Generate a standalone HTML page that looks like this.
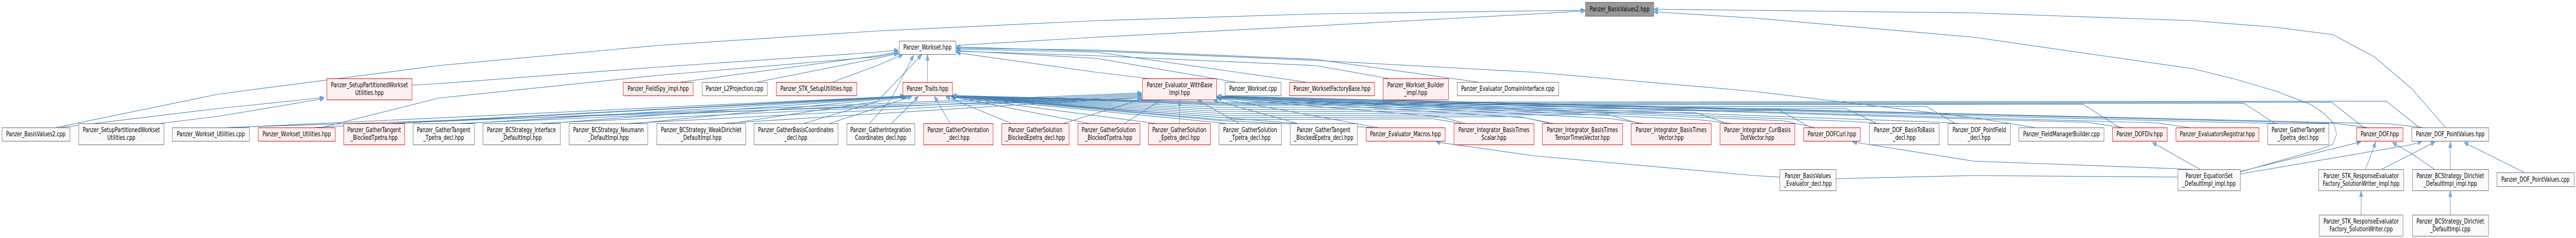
<!DOCTYPE html>
<html><head><meta charset="utf-8">
<style>
html,body{margin:0;padding:0;background:#fff;width:100%;height:100%;overflow:hidden}
svg{display:block;width:100vw;height:100vh;overflow:hidden}
text{font-family:"DejaVu Sans","Liberation Sans",sans-serif;font-size:13px;fill:#000;text-anchor:middle}
.e{fill:none;stroke:#4682b4;stroke-width:1.1;stroke-linejoin:round;marker-end:url(#a)}
.n{fill:none;stroke:#4682b4;stroke-width:1.1}
.g{fill:#f9faf9;stroke:#666;stroke-width:1}
.r{fill:#fff0f0;stroke:#c00;stroke-width:1}
.k{fill:#999;stroke:#666;stroke-width:1}
</style></head><body>
<svg viewBox="0 0 7049 461" preserveAspectRatio="none" xmlns="http://www.w3.org/2000/svg">
<defs>
<marker id="a" viewBox="0 0 12 10" refX="11" refY="5" markerWidth="12" markerHeight="10" orient="auto" markerUnits="userSpaceOnUse">
<path d="M0.5,0.8 L11,5 L0.5,9.2 z" fill="#63b8ff" stroke="#4682b4" stroke-width="0.8"/>
</marker>
</defs>

<!-- edges to root -->
<path class="e" d="M153,247 L600,182 L1200,127 L1800,88 L2400,60 L3000,40 L3600,27 L4200,21 L4337,20"/>
<path class="e" d="M2615,88 L3000,72 L3600,50 L4200,27 L4337,21"/>
<path class="e" d="M6692,247 L6600,172 L6497,110 L6383,67 L6230,53 L6000,40 L5400,25 L4800,20 L4526,18"/>
<path class="e" d="M6130,333 L6344,290 L6383,280 L6394,260 L6387,240 L6360,220 L6325,203 L6230,177 L6115,153 L6000,133 L5400,72 L4800,35 L4526,23"/>

<!-- edges to Workset.hpp -->
<path class="e" d="M2538,159 L2538,106"/>
<path class="e" d="M1127,165 L1200,162 L1800,130 L2400,101 L2458,97"/>
<path class="e" d="M1862,159 L2400,108 L2458,100"/>
<path class="e" d="M2072,159 L2400,113 L2459,103"/>
<path class="e" d="M2278,159 L2400,127 L2470,106"/>
<path class="e" d="M880,247 L1200,190 L1800,146 L2400,110 L2458,102"/>
<path class="e" d="M2200,239 L2400,197 L2522,106"/>
<path class="e" d="M2380,239 L2440,190 L2500,107"/>
<path class="e" d="M3380,159 L3000,113 L2617,98"/>
<path class="e" d="M3574,159 L3000,101 L2617,95"/>
<path class="e" d="M3140,152 L3000,140 L2617,102"/>
<path class="e" d="M3800,152 L3600,127 L3000,108 L2617,99"/>
<path class="e" d="M4044,159 L3600,115 L3000,97 L2617,93"/>
<path class="e" d="M5568,247 L5400,228 L4800,177 L4200,140 L3600,117 L3000,99 L2617,91"/>

<!-- edges to SetupPartitionedWorksetUtilities.hpp -->
<path class="e" d="M165,247 L600,210 L886,189"/>
<path class="e" d="M440,239 L600,225 L886,191"/>

<!-- edges to Traits.hpp from left -->
<path class="e" d="M640,247 L2474,186"/>
<path class="e" d="M860,247 L2476,186"/>
<path class="e" d="M1090,239 L2478,187"/>
<path class="e" d="M1280,239 L2480,187"/>
<path class="e" d="M1500,239 L2482,187"/>
<path class="e" d="M1740,239 L2485,187"/>
<path class="e" d="M2000,239 L2488,187"/>
<path class="e" d="M2270,239 L2495,187"/>
<path class="e" d="M2440,239 L2513,187"/>
<path class="e" d="M2600,239 L2557,187"/>
<path class="e" d="M2767,239 L2588,187"/>
<path class="e" d="M2980,239 L2602,187"/>
<path class="e" d="M3160,239 L2603,187"/>
<path class="e" d="M3355,239 L2604,187"/>
<path class="e" d="M3548,239 L2605,187"/>
<!-- edges to Traits.hpp from right -->
<path class="e" d="M3760,247 L3345,234 L2606,186"/>
<path class="e" d="M4000,239 L3920,230 L3345,232 L2606,185"/>
<path class="e" d="M4240,239 L4160,226 L3345,228 L2606,185"/>
<path class="e" d="M4485,239 L4400,222 L3345,224 L2606,185"/>
<path class="e" d="M4725,239 L4640,218 L3345,220 L2606,185"/>
<path class="e" d="M4955,247 L4870,214 L3345,216 L2606,185"/>
<path class="e" d="M5135,239 L5050,210 L3345,212 L2606,185"/>
<path class="e" d="M5350,239 L5270,206 L3345,208 L2606,185"/>
<path class="e" d="M5800,247 L5700,202 L3345,204 L2606,185"/>
<path class="e" d="M6225,239 L6140,200 L3345,202 L2606,185"/>
<path class="e" d="M6468,247 L6380,198 L3345,200 L2606,185"/>
<path class="e" d="M6620,247 L6530,196 L3345,198 L2606,185"/>

<!-- edges to Evaluator_WithBaseImpl.hpp -->
<path class="e" d="M620,247 L3124,190"/>
<path class="e" d="M1070,239 L3124,180"/>
<path class="e" d="M1260,239 L3124,182"/>
<path class="e" d="M1480,239 L3124,184"/>
<path class="e" d="M1720,239 L3124,186"/>
<path class="e" d="M1980,239 L3124,188"/>
<path class="e" d="M2910,239 L3126,192"/>
<path class="e" d="M3077,239 L3176,194"/>
<path class="e" d="M3228,239 L3228,194"/>
<path class="e" d="M3390,239 L3277,194"/>
<path class="e" d="M3550,239 L3321,194"/>
<path class="e" d="M3770,247 L3331,190"/>
<path class="e" d="M4010,239 L3940,226 L3331,190"/>
<path class="e" d="M4250,239 L4170,228 L3331,189"/>
<path class="e" d="M4495,239 L4410,230 L3331,189"/>
<path class="e" d="M4735,239 L4650,232 L3331,188"/>
<path class="e" d="M4965,247 L4880,234 L3331,188"/>
<path class="e" d="M5145,239 L5060,235 L3331,188"/>
<path class="e" d="M5360,239 L5280,236 L3331,187"/>
<path class="e" d="M5810,247 L5710,237 L3331,187"/>
<path class="e" d="M5990,247 L5900,238 L3331,187"/>
<path class="e" d="M6235,239 L6150,238 L3331,186"/>
<path class="e" d="M6478,247 L6390,239 L3331,186"/>
<path class="e" d="M6630,247 L6540,240 L3331,186"/>

<!-- lower edges -->
<path class="e" d="M4870,343 L4800,340 L4200,302 L3930,275"/>
<path class="n" d="M5959,343 L5400,340 L5024,346"/>
<path class="e" d="M6000,328 L5400,312 L5070,275"/>
<path class="e" d="M6020,328 L5890,276"/>
<path class="e" d="M6130,332 L6460,275"/>
<path class="e" d="M6130,337 L6600,280 L6627,274"/>
<path class="e" d="M6473,328 L6501,275"/>
<path class="e" d="M6517,328 L6600,298 L6663,275"/>
<path class="e" d="M6662,328 L6600,298 L6547,276"/>
<path class="e" d="M6705,328 L6705,275"/>
<path class="e" d="M6907,334 L6743,276"/>
<path class="e" d="M6461,416 L6461,370"/>
<path class="e" d="M6705,416 L6705,370"/>

<!-- nodes -->
<rect class="k" x="4338.5" y="4.5" width="187" height="27"/><text x="4432" y="22">Panzer_BasisValues2.hpp</text>
<rect class="g" x="2460.5" y="79.5" width="155" height="26"/><text x="2538" y="96">Panzer_Workset.hpp</text>

<rect class="r" x="894.5" y="152.5" width="233" height="41"/><text x="1011" y="169">Panzer_SetupPartitionedWorkset</text><text x="1011" y="184">Utilities.hpp</text>
<rect class="r" x="1705.5" y="159.5" width="191" height="26"/><text x="1801" y="176">Panzer_FieldSpy_impl.hpp</text>
<rect class="g" x="1921.5" y="159.5" width="178" height="26"/><text x="2010" y="176">Panzer_L2Projection.cpp</text>
<rect class="r" x="2124.5" y="159.5" width="220" height="26"/><text x="2234" y="176">Panzer_STK_SetupUtilities.hpp</text>
<rect class="r" x="2470.5" y="159.5" width="136" height="26"/><text x="2538" y="176">Panzer_Traits.hpp</text>
<rect class="r" x="3126.5" y="152.5" width="203" height="41"/><text x="3228" y="169">Panzer_Evaluator_WithBase</text><text x="3228" y="184">Impl.hpp</text>
<rect class="g" x="3352.5" y="159.5" width="153" height="26"/><text x="3429" y="176">Panzer_Workset.cpp</text>
<rect class="r" x="3528.5" y="159.5" width="233" height="26"/><text x="3645" y="176">Panzer_WorksetFactoryBase.hpp</text>
<rect class="r" x="3784.5" y="152.5" width="179" height="41"/><text x="3874" y="169">Panzer_Workset_Builder</text><text x="3874" y="184">_impl.hpp</text>
<rect class="g" x="3987.5" y="159.5" width="278" height="26"/><text x="4126" y="176">Panzer_Evaluator_DomainInterface.cpp</text>

<rect class="g" x="5.5" y="247.5" width="186" height="26"/><text x="98" y="264">Panzer_BasisValues2.cpp</text>
<rect class="g" x="215.5" y="239.5" width="233" height="41"/><text x="332" y="256">Panzer_SetupPartitionedWorkset</text><text x="332" y="271">Utilities.cpp</text>
<rect class="g" x="471.5" y="247.5" width="211" height="26"/><text x="577" y="264">Panzer_Workset_Utilities.cpp</text>
<rect class="r" x="706.5" y="247.5" width="211" height="26"/><text x="812" y="264">Panzer_Workset_Utilities.hpp</text>
<rect class="r" x="940.5" y="239.5" width="167" height="41"/><text x="1024" y="256">Panzer_GatherTangent</text><text x="1024" y="271">_BlockedTpetra.hpp</text>
<rect class="g" x="1130.5" y="239.5" width="168" height="41"/><text x="1214" y="256">Panzer_GatherTangent</text><text x="1214" y="271">_Tpetra_decl.hpp</text>
<rect class="g" x="1321.5" y="239.5" width="212" height="41"/><text x="1427" y="256">Panzer_BCStrategy_Interface</text><text x="1427" y="271">_DefaultImpl.hpp</text>
<rect class="g" x="1557.5" y="239.5" width="215" height="41"/><text x="1665" y="256">Panzer_BCStrategy_Neumann</text><text x="1665" y="271">_DefaultImpl.hpp</text>
<rect class="g" x="1797.5" y="239.5" width="243" height="41"/><text x="1919" y="256">Panzer_BCStrategy_WeakDirichlet</text><text x="1919" y="271">_DefaultImpl.hpp</text>
<rect class="g" x="2063.5" y="239.5" width="230" height="41"/><text x="2178" y="256">Panzer_GatherBasisCoordinates</text><text x="2178" y="271">_decl.hpp</text>
<rect class="g" x="2317.5" y="239.5" width="186" height="41"/><text x="2410" y="256">Panzer_GatherIntegration</text><text x="2410" y="271">Coordinates_decl.hpp</text>
<rect class="r" x="2527.5" y="239.5" width="190" height="41"/><text x="2622" y="256">Panzer_GatherOrientation</text><text x="2622" y="271">_decl.hpp</text>
<rect class="r" x="2741.5" y="239.5" width="184" height="41"/><text x="2833" y="256">Panzer_GatherSolution</text><text x="2833" y="271">_BlockedEpetra_decl.hpp</text>
<rect class="r" x="2949.5" y="239.5" width="170" height="41"/><text x="3034" y="256">Panzer_GatherSolution</text><text x="3034" y="271">_BlockedTpetra.hpp</text>
<rect class="r" x="3142.5" y="239.5" width="170" height="41"/><text x="3227" y="256">Panzer_GatherSolution</text><text x="3227" y="271">_Epetra_decl.hpp</text>
<rect class="g" x="3335.5" y="239.5" width="171" height="41"/><text x="3421" y="256">Panzer_GatherSolution</text><text x="3421" y="271">_Tpetra_decl.hpp</text>
<rect class="g" x="3530.5" y="239.5" width="184" height="41"/><text x="3622" y="256">Panzer_GatherTangent</text><text x="3622" y="271">_BlockedEpetra_decl.hpp</text>
<rect class="r" x="3738.5" y="247.5" width="216" height="26"/><text x="3846" y="264">Panzer_Evaluator_Macros.hpp</text>
<rect class="r" x="3978.5" y="239.5" width="219" height="41"/><text x="4088" y="256">Panzer_Integrator_BasisTimes</text><text x="4088" y="271">Scalar.hpp</text>
<rect class="r" x="4220.5" y="239.5" width="220" height="41"/><text x="4330" y="256">Panzer_Integrator_BasisTimes</text><text x="4330" y="271">TensorTimesVector.hpp</text>
<rect class="r" x="4463.5" y="239.5" width="219" height="41"/><text x="4573" y="256">Panzer_Integrator_BasisTimes</text><text x="4573" y="271">Vector.hpp</text>
<rect class="r" x="4706.5" y="239.5" width="205" height="41"/><text x="4809" y="256">Panzer_Integrator_CurlBasis</text><text x="4809" y="271">DotVector.hpp</text>
<rect class="r" x="4935.5" y="247.5" width="155" height="26"/><text x="5013" y="264">Panzer_DOFCurl.hpp</text>
<rect class="g" x="5115.5" y="239.5" width="191" height="41"/><text x="5211" y="256">Panzer_DOF_BasisToBasis</text><text x="5211" y="271">_decl.hpp</text>
<rect class="g" x="5330.5" y="239.5" width="171" height="41"/><text x="5416" y="256">Panzer_DOF_PointField</text><text x="5416" y="271">_decl.hpp</text>
<rect class="g" x="5524.5" y="247.5" width="233" height="26"/><text x="5641" y="264">Panzer_FieldManagerBuilder.cpp</text>
<rect class="r" x="5780.5" y="247.5" width="150" height="26"/><text x="5855" y="264">Panzer_DOFDiv.hpp</text>
<rect class="r" x="5954.5" y="247.5" width="227" height="26"/><text x="6068" y="264">Panzer_EvaluatorsRegistrar.hpp</text>
<rect class="g" x="6205.5" y="239.5" width="167" height="41"/><text x="6289" y="256">Panzer_GatherTangent</text><text x="6289" y="271">_Epetra_decl.hpp</text>
<rect class="r" x="6448.5" y="247.5" width="127" height="26"/><text x="6512" y="264">Panzer_DOF.hpp</text>
<rect class="g" x="6599.5" y="247.5" width="211" height="26"/><text x="6705" y="264">Panzer_DOF_PointValues.hpp</text>

<rect class="g" x="4870.5" y="328.5" width="154" height="41"/><text x="4947" y="345">Panzer_BasisValues</text><text x="4947" y="360">_Evaluator_decl.hpp</text>
<rect class="g" x="5959.5" y="328.5" width="171" height="41"/><text x="6045" y="345">Panzer_EquationSet</text><text x="6045" y="360">_DefaultImpl_impl.hpp</text>
<rect class="g" x="6344.5" y="328.5" width="233" height="41"/><text x="6461" y="345">Panzer_STK_ResponseEvaluator</text><text x="6461" y="360">Factory_SolutionWriter_impl.hpp</text>
<rect class="g" x="6601.5" y="328.5" width="208" height="41"/><text x="6705" y="345">Panzer_BCStrategy_Dirichlet</text><text x="6705" y="360">_DefaultImpl_impl.hpp</text>
<rect class="g" x="6832.5" y="334.5" width="212" height="27"/><text x="6938" y="352">Panzer_DOF_PointValues.cpp</text>

<rect class="g" x="6346.5" y="416.5" width="229" height="41"/><text x="6461" y="433">Panzer_STK_ResponseEvaluator</text><text x="6461" y="448">Factory_SolutionWriter.cpp</text>
<rect class="g" x="6601.5" y="416.5" width="208" height="41"/><text x="6705" y="433">Panzer_BCStrategy_Dirichlet</text><text x="6705" y="448">_DefaultImpl.cpp</text>
</svg>
</body></html>
